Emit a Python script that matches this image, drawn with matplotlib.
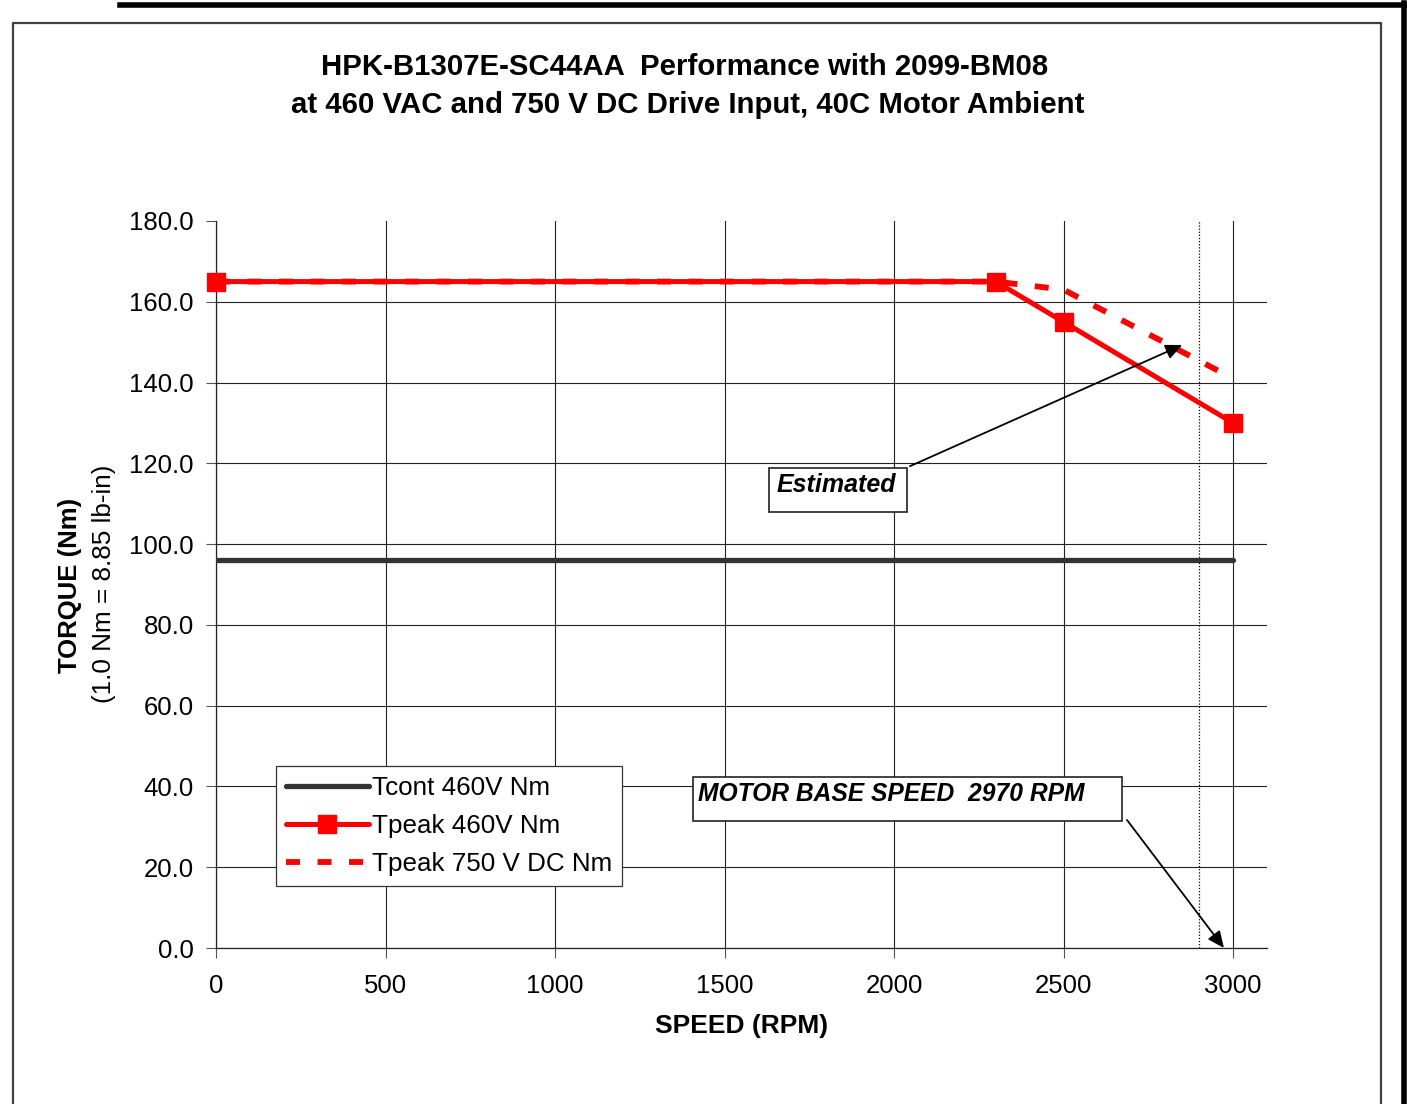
import matplotlib.pyplot as plt
from matplotlib.patches import Rectangle
from matplotlib.lines import Line2D

plt.rcParams["font.family"] = ["Liberation Sans", "DejaVu Sans"]

# ---------------------------------- data ---------------------------------- #
tcont_speed = [0, 3000]
tcont_torque = [96.0, 96.0]

tpeak460_speed = [0, 2300, 2500, 3000]
tpeak460_torque = [165.0, 165.0, 155.0, 130.0]

tpeak750_speed = [0, 2300, 2500, 3000]
tpeak750_torque = [165.0, 165.0, 163.0, 141.0]

base_speed = 2900
x_ticks = [0, 500, 1000, 1500, 2000, 2500, 3000]
y_ticks = [0, 20, 40, 60, 80, 100, 120, 140, 160, 180]

dark_grey = "#333333"
red = "#FF0000"

fig = plt.figure(figsize=(14.07, 11.04), dpi=100)
ax = fig.add_axes([216 / 1407, 1 - 948 / 1104, (1267 - 216) / 1407, (948 - 221) / 1104])

# frame around the chart
fig.add_artist(Line2D([120 / 1407, 1], [1 - 5 / 1104] * 2, color="black", lw=4, transform=fig.transFigure))
fig.add_artist(Line2D([1 - 3 / 1407] * 2, [0, 1 - 3 / 1104], color="black", lw=4, transform=fig.transFigure))
fig.add_artist(Line2D([13 / 1407, 13 / 1407, 1381 / 1407, 1381 / 1407], [0, 1 - 23 / 1104, 1 - 23 / 1104, 0],
                      color="#404040", lw=1.6, transform=fig.transFigure))

ax.set_xlim(0, 3100)
ax.set_ylim(0, 180)
ax.set_xticks(x_ticks)
ax.set_yticks(y_ticks)
ax.set_yticklabels([f"{v:.1f}" for v in y_ticks])
ax.grid(True, color="#222222", linewidth=0.8, zorder=0)
ax.yaxis.get_gridlines()[-1].set_visible(False)
ax.set_axisbelow(True)
for s in ("top", "right"):
    ax.spines[s].set_visible(False)
for s in ("left", "bottom"):
    ax.spines[s].set_color("#222222")
    ax.spines[s].set_linewidth(0.9)
ax.tick_params(axis="both", direction="out", length=7, width=0.8, color="#555555",
               labelsize=18.5, pad=9)
ax.tick_params(axis="x", pad=12)

ax.axvline(base_speed, color="black", linestyle=(0, (1, 1.5)), linewidth=0.9, zorder=1)

ax.plot(tcont_speed, tcont_torque, color=dark_grey, lw=3.8, solid_capstyle="round",
        label="Tcont 460V Nm", zorder=3)
ax.plot(tpeak750_speed, tpeak750_torque, color=red, lw=4.2, linestyle=(0, (2.4, 3.0)),
        label="Tpeak 750 V DC Nm", zorder=3)
ax.plot(tpeak460_speed, tpeak460_torque, color=red, lw=3.6, marker="s", markersize=13,
        solid_capstyle="round", label="Tpeak 460V Nm", zorder=4, clip_on=False)

handles, labels = ax.get_legend_handles_labels()
order = [0, 2, 1]
leg = ax.legend([handles[i] for i in order], [labels[i] for i in order],
                loc="upper left", bbox_to_anchor=((276 - 216) / 1051, (948 - 766) / 727),
                fontsize=18.7, frameon=True, fancybox=False, framealpha=1,
                edgecolor="#333333", borderpad=0.38, labelspacing=0.54,
                handlelength=3.2, handletextpad=0.1, borderaxespad=0)
leg.get_frame().set_linewidth(0.9)

arrow_style = dict(arrowstyle="-|>,head_length=1.0,head_width=0.45", color="black", lw=1.3,
                   shrinkA=0, shrinkB=0)

# annotation boxes
ax.add_patch(Rectangle((1631, 107.9), 2038 - 1631, 118.8 - 107.9, fill=True, facecolor="white",
                       edgecolor="#222222", lw=1.2, zorder=5))
ax.text(1652, 117.6, "Estimated", fontsize=18, fontweight="bold", style="italic",
        ha="left", va="top", zorder=6)
ax.annotate("", xy=(2850, 149.3), xytext=(2047, 119.3), arrowprops=arrow_style, zorder=6)

ax.add_patch(Rectangle((1407, 31.4), 2673 - 1407, 42.3 - 31.4, fill=True, facecolor="white",
                       edgecolor="#222222", lw=1.2, zorder=5))
ax.text(1422, 41.2, "MOTOR BASE SPEED  2970 RPM", fontsize=17.7, fontweight="bold", style="italic",
        ha="left", va="top", zorder=6)
ax.annotate("", xy=(2973, 0.0), xytext=(2687, 31.7), arrowprops=arrow_style,
            zorder=6, annotation_clip=False)

ax.set_xlabel("SPEED (RPM)", fontsize=19, fontweight="bold", labelpad=11)

fig.text(685 / 1407, 1 - 67 / 1104, "HPK-B1307E-SC44AA  Performance with 2099-BM08",
         fontsize=21.2, fontweight="bold", ha="center", va="center")
fig.text(688 / 1407, 1 - 105 / 1104, "at 460 VAC and 750 V DC Drive Input, 40C Motor Ambient",
         fontsize=21.2, fontweight="bold", ha="center", va="center")
fig.text(70 / 1407, 1 - 585 / 1104, "TORQUE (Nm)", fontsize=18.5, fontweight="bold",
         rotation=90, ha="center", va="center")
fig.text(104 / 1407, 1 - 584 / 1104, "(1.0 Nm = 8.85 lb-in)", fontsize=18.8,
         rotation=90, ha="center", va="center")

fig.savefig("out.png", dpi=100)
